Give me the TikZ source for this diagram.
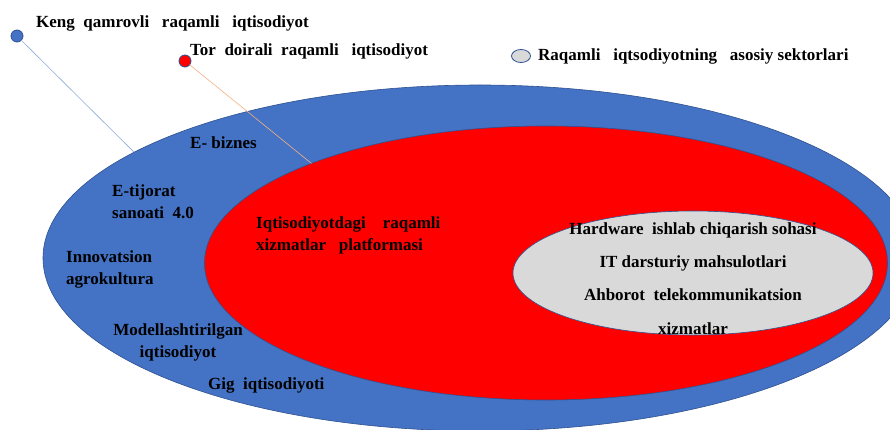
\documentclass[tikz,border=0pt]{standalone}
\usepackage{fontspec}
\setmainfont{Liberation Serif}
\usetikzlibrary{shapes.geometric}
\definecolor{cblue}{HTML}{4472C4}
\definecolor{cedge}{HTML}{2F528F}
\definecolor{cred}{HTML}{FF0000}
\definecolor{cgray}{HTML}{D9D9D9}
\definecolor{cline}{HTML}{8FAADC}
\definecolor{cor}{HTML}{F4B183}
\tikzset{
  zone/.style={ellipse, inner sep=0pt, outer sep=0pt, draw=cedge, line width=0.6pt},
  dot/.style={circle, inner sep=0pt, outer sep=0pt, minimum size=12pt, draw=cedge, line width=0.8pt},
  lbl/.style={font=\bfseries\fontsize{17}{22}\selectfont, inner sep=0pt, text=black},
  lbltop/.style={lbl, anchor=west},
}
\begin{document}
\begin{tikzpicture}[x=1pt,y=-1pt]
\useasboundingbox (0,0) rectangle (890,430);
\clip (0,0) rectangle (890,430);
\fill[white] (0,0) rectangle (890,430);
% ellipses
\node[zone, fill=cblue, minimum width=874pt, minimum height=346pt] (wide) at (480,258) {};
\node[zone, fill=cred, minimum width=683pt, minimum height=274pt] (narrow) at (546,263) {};
\node[zone, fill=cgray, minimum width=360pt, minimum height=124pt] (core) at (693,273) {};
% legend dots
\node[dot, fill=cblue] (bdot) at (17,36) {};
\node[dot, fill=cred] (rdot) at (185,61) {};
\node[zone, fill=cgray, minimum width=19pt, minimum height=13pt, line width=0.8pt] (gdot) at (521,56) {};
\draw[cline, line width=0.6pt] (bdot) -- (wide.163.9);
\draw[cor, line width=0.6pt] (rdot) -- (narrow.157.7);
% legend texts
\node[lbltop] (tkeng) at (36,23) {Keng\ \ qamrovli\ \ \ raqamli\ \ \ iqtisodiyot};
\node[lbltop] (ttor) at (190,51) {Tor\ \ doirali\ \ raqamli\ \ \ iqtisodiyot};
\node[lbltop] (traq) at (538,56) {Raqamli\ \ \ iqtsodiyotning\ \ \ asosiy sektorlari};
% blue zone texts
\node[lbltop] (tebiz) at (190,143) {E-\ biznes};
\node[lbl, anchor=west, align=left] (tetij) at (112,201.5) {E-tijorat\\sanoati\ \ 4.0};
\node[lbl, anchor=west, align=left] (tinno) at (66,269) {Innovatsion\\agrokultura};
\node[lbl, align=center] (tmod) at (178,342) {Modellashtirilgan\\iqtisodiyot};
\node[lbltop] (tgig) at (208,385) {Gig\ \ iqtisodiyoti};
% red zone text
\node[lbl, anchor=west, align=left] (tplat) at (256,235) {Iqtisodiyotdagi\ \ \ \ raqamli\\xizmatlar\ \ \ platformasi};
% gray zone text
\node[lbl, align=center, font=\bfseries\fontsize{17}{33.3}\selectfont] (tcore) at (693,278.5) {Hardware\ \ ishlab chiqarish sohasi\\IT darsturiy mahsulotlari\\Ahborot\ \ telekommunikatsion\\xizmatlar};
\end{tikzpicture}
\end{document}
